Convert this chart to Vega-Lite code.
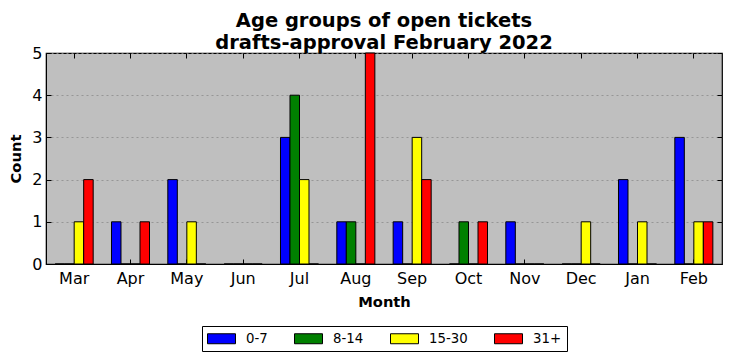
{
  "$schema": "https://vega.github.io/schema/vega-lite/v6.json",
  "width": 676,
  "height": 211,
  "autosize": {"type": "none"},
  "padding": {"left": 46, "top": 53, "right": 10, "bottom": 97},
  "background": "white",
  "title": {
    "text": ["Age groups of open tickets", "drafts-approval February 2022"],
    "font": "DejaVu Sans",
    "fontSize": 19.5,
    "fontWeight": "bold",
    "color": "black",
    "anchor": "middle",
    "lineHeight": 21.5,
    "baseline": "alphabetic",
    "offset": -23
  },
  "config": {
    "view": {"fill": "#bfbfbf", "stroke": "black", "strokeWidth": 1.2},
    "axis": {
      "labelFont": "DejaVu Sans",
      "labelFontSize": 16,
      "labelColor": "black",
      "titleFont": "DejaVu Sans",
      "titleFontSize": 14.7,
      "titleFontWeight": "bold",
      "titleColor": "black",
      "domainColor": "black",
      "tickColor": "black",
      "tickSize": -5,
      "labelOverlap": false
    }
  },
  "data": {
    "values": [
      {"month": "Mar", "group": "0-7", "count": 0},
      {"month": "Mar", "group": "8-14", "count": 0},
      {"month": "Mar", "group": "15-30", "count": 1},
      {"month": "Mar", "group": "31+", "count": 2},
      {"month": "Apr", "group": "0-7", "count": 1},
      {"month": "Apr", "group": "8-14", "count": 0},
      {"month": "Apr", "group": "15-30", "count": 0},
      {"month": "Apr", "group": "31+", "count": 1},
      {"month": "May", "group": "0-7", "count": 2},
      {"month": "May", "group": "8-14", "count": 0},
      {"month": "May", "group": "15-30", "count": 1},
      {"month": "May", "group": "31+", "count": 0},
      {"month": "Jun", "group": "0-7", "count": 0},
      {"month": "Jun", "group": "8-14", "count": 0},
      {"month": "Jun", "group": "15-30", "count": 0},
      {"month": "Jun", "group": "31+", "count": 0},
      {"month": "Jul", "group": "0-7", "count": 3},
      {"month": "Jul", "group": "8-14", "count": 4},
      {"month": "Jul", "group": "15-30", "count": 2},
      {"month": "Jul", "group": "31+", "count": 0},
      {"month": "Aug", "group": "0-7", "count": 1},
      {"month": "Aug", "group": "8-14", "count": 1},
      {"month": "Aug", "group": "15-30", "count": 0},
      {"month": "Aug", "group": "31+", "count": 5},
      {"month": "Sep", "group": "0-7", "count": 1},
      {"month": "Sep", "group": "8-14", "count": 0},
      {"month": "Sep", "group": "15-30", "count": 3},
      {"month": "Sep", "group": "31+", "count": 2},
      {"month": "Oct", "group": "0-7", "count": 0},
      {"month": "Oct", "group": "8-14", "count": 1},
      {"month": "Oct", "group": "15-30", "count": 0},
      {"month": "Oct", "group": "31+", "count": 1},
      {"month": "Nov", "group": "0-7", "count": 1},
      {"month": "Nov", "group": "8-14", "count": 0},
      {"month": "Nov", "group": "15-30", "count": 0},
      {"month": "Nov", "group": "31+", "count": 0},
      {"month": "Dec", "group": "0-7", "count": 0},
      {"month": "Dec", "group": "8-14", "count": 0},
      {"month": "Dec", "group": "15-30", "count": 1},
      {"month": "Dec", "group": "31+", "count": 0},
      {"month": "Jan", "group": "0-7", "count": 2},
      {"month": "Jan", "group": "8-14", "count": 0},
      {"month": "Jan", "group": "15-30", "count": 1},
      {"month": "Jan", "group": "31+", "count": 0},
      {"month": "Feb", "group": "0-7", "count": 3},
      {"month": "Feb", "group": "8-14", "count": 0},
      {"month": "Feb", "group": "15-30", "count": 1},
      {"month": "Feb", "group": "31+", "count": 1}
    ]
  },
  "layer": [
    {
      "mark": {"type": "bar", "stroke": "black", "strokeWidth": 1, "opacity": 1},
      "encoding": {
        "x": {
          "field": "month",
          "type": "nominal",
          "sort": ["Mar", "Apr", "May", "Jun", "Jul", "Aug", "Sep", "Oct", "Nov", "Dec", "Jan", "Feb"],
          "scale": {"paddingInner": 0.325, "paddingOuter": 0.1625},
          "axis": {"labelAngle": 0, "title": "Month", "labelPadding": 11, "titlePadding": 8, "grid": false}
        },
        "xOffset": {
          "field": "group",
          "type": "nominal",
          "sort": ["0-7", "8-14", "15-30", "31+"],
          "scale": {"paddingInner": 0, "paddingOuter": 0}
        },
        "y": {
          "field": "count",
          "type": "quantitative",
          "scale": {"domain": [0, 5], "nice": false},
          "axis": {
            "title": "Count",
            "values": [0, 1, 2, 3, 4, 5],
            "grid": true,
            "gridColor": "#8c8c8c",
            "gridDash": [2, 3],
            "gridWidth": 0.8,
            "labelPadding": 9,
            "titlePadding": 8
          }
        },
        "color": {
          "field": "group",
          "type": "nominal",
          "sort": ["0-7", "8-14", "15-30", "31+"],
          "scale": {"domain": ["0-7", "8-14", "15-30", "31+"], "range": ["#0000ff", "#008000", "#ffff00", "#ff0000"]},
          "legend": {
            "title": null,
            "orient": "none",
            "legendX": 156,
            "legendY": 273,
            "direction": "horizontal",
            "columns": 4,
            "symbolType": "M-1,-0.714L3,-0.714L3,0.714L-1,0.714Z",
            "symbolSize": 196,
            "symbolStrokeColor": "black",
            "symbolStrokeWidth": 1,
            "symbolOpacity": 1,
            "labelFont": "DejaVu Sans",
            "labelFontSize": 13.3,
            "labelColor": "black",
            "labelOffset": 24,
            "columnPadding": 24,
            "strokeColor": "black",
            "fillColor": "white",
            "padding": 5
          }
        }
      }
    },
    {
      "mark": {"type": "point", "opacity": 0},
      "encoding": {
        "x": {
          "field": "month",
          "type": "nominal",
          "sort": ["Mar", "Apr", "May", "Jun", "Jul", "Aug", "Sep", "Oct", "Nov", "Dec", "Jan", "Feb"],
          "axis": {"orient": "top", "labels": false, "title": null, "domain": false, "grid": false}
        },
        "y": {
          "field": "count",
          "type": "quantitative",
          "axis": {"orient": "right", "labels": false, "title": null, "domain": false, "grid": false, "values": [0, 1, 2, 3, 4, 5]}
        }
      }
    }
  ],
  "resolve": {"axis": {"x": "independent", "y": "independent"}}
}
